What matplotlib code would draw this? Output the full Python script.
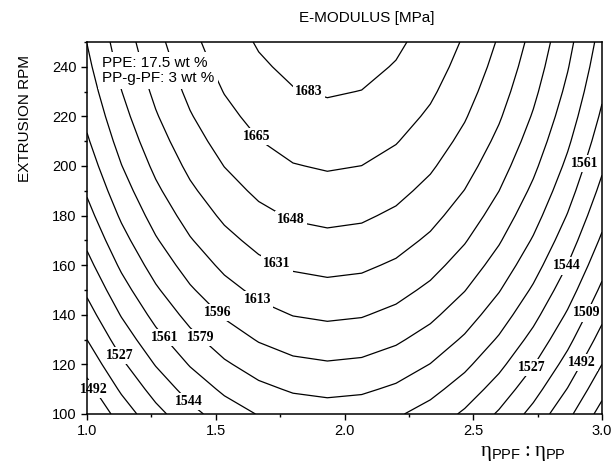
import numpy as np
import matplotlib
matplotlib.use("Agg")
import matplotlib.pyplot as plt
from matplotlib.ticker import MultipleLocator

# viscosity ratio and extruder speed ranges
ratio_range = [1.0, 3.0]
rpm_range = [100, 250]

# fitted response surface for the E-modulus (MPa):
# E = e_ridge(rpm) - curv * (ratio - ratio_opt)**2
ratio_opt = 1.945
curv = 108.0
ridge_c0 = 1416.0
ridge_c1 = 1.84
ridge_c2 = -0.00293

levels = [1457.1, 1474.4, 1491.9, 1509.2, 1526.6, 1544.0, 1561.4,
          1578.7, 1596.1, 1613.4, 1630.8, 1648.2, 1665.3, 1682.9]

# where the contour values are written (ratio, rpm)
label_pos = [(1.864, 231.0), (1.658, 212.1), (1.794, 179.0), (1.740, 161.3),
             (1.666, 146.8), (1.509, 141.1), (1.443, 131.0), (1.303, 131.0),
             (1.132, 123.8), (1.035, 110.5), (1.40, 105.6), (2.918, 201.6),
             (2.856, 160.1), (2.934, 141.1), (2.915, 121.0), (2.724, 119.0)]

ratio = np.linspace(ratio_range[0], ratio_range[1], 16)
rpm = np.linspace(rpm_range[0], rpm_range[1], 16)
X, Y = np.meshgrid(ratio, rpm)
ridge = ridge_c0 + ridge_c1 * Y + ridge_c2 * Y ** 2
E = ridge - curv * (X - ratio_opt) ** 2

plt.rcParams["font.family"] = ["Liberation Sans", "DejaVu Sans"]
plt.rcParams["mathtext.fontset"] = "custom"
plt.rcParams["mathtext.rm"] = "Liberation Serif"
plt.rcParams["mathtext.sf"] = "Liberation Sans"

fig = plt.figure(figsize=(6.13, 4.66), dpi=100)
ax = fig.add_axes([0.142, 0.1116, 0.840, 0.7983])

cs = ax.contour(X, Y, E, levels=levels, colors="black", linewidths=0.9)
ax.clabel(cs, fmt=lambda v: f"{v:.0f}", manual=label_pos, inline=False,
          fontsize=10)
# upright labels on a white patch that cuts the line
for t in cs.labelTexts:
    t.set_rotation(0)
    t.set_fontfamily("Liberation Serif")
    t.set_fontweight("bold")
    t.set_zorder(5)
    t.set_clip_on(False)
    t.set_bbox(dict(facecolor="white", edgecolor="none", pad=1.5))

ax.set_xlim(ratio_range)
ax.set_ylim(rpm_range)
ax.xaxis.set_major_locator(MultipleLocator(0.5))
ax.xaxis.set_minor_locator(MultipleLocator(0.25))
ax.yaxis.set_major_locator(MultipleLocator(20))
ax.yaxis.set_minor_locator(MultipleLocator(10))
ax.xaxis.set_major_formatter(plt.FuncFormatter(lambda v, p: f"{v:.1f}"))
ax.tick_params(which="major", direction="out", length=4, width=1, labelsize=10.5)
ax.tick_params(which="minor", direction="out", length=2.5, width=1)
for s in ax.spines.values():
    s.set_linewidth(1.1)
    s.set_zorder(6)

ax.text(0.029, 0.962, "PPE: 17.5 wt %\nPP-g-PF: 3 wt %", transform=ax.transAxes,
        ha="left", va="top", fontsize=11, linespacing=1.1, zorder=6,
        bbox=dict(facecolor="white", edgecolor="none", pad=3))

fig.text(0.599, 0.961, "E-MODULUS [MPa]", ha="center", va="center", fontsize=11)
fig.text(0.041, 0.745, "EXTRUSION RPM", ha="center", va="center",
         rotation=90, fontsize=11)
fig.text(0.853, 0.026, r"$\mathrm{\eta}_{\mathsf{PPF}}\mathrm{:}\mathrm{\eta}_{\mathsf{PP}}$",
         ha="center", va="center", fontsize=15)

fig.savefig("out.png", dpi=100)
